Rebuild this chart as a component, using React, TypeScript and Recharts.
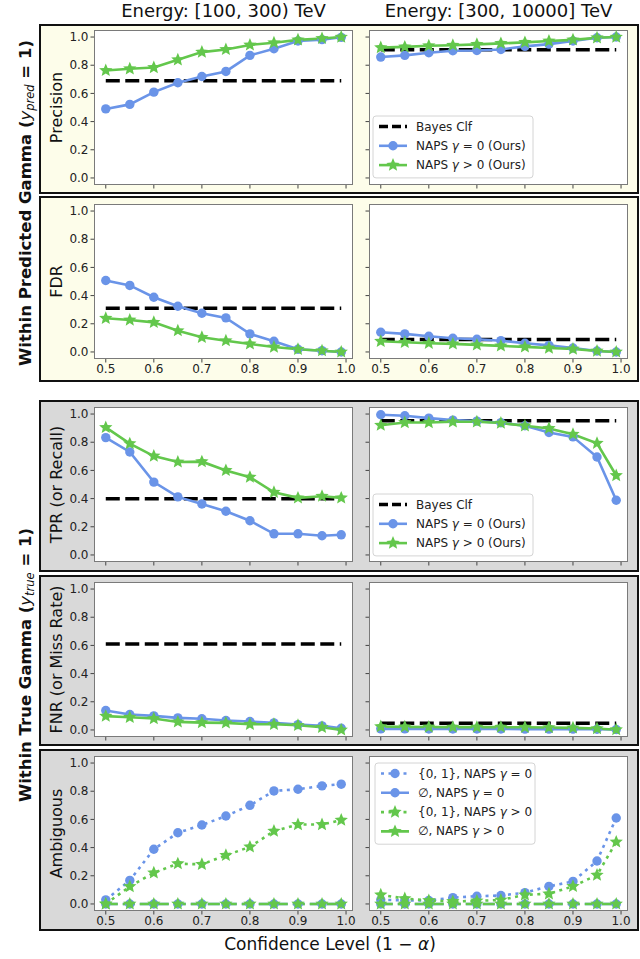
import React from 'react';
import { LineChart, Line, XAxis, YAxis } from 'recharts';

// confidence levels (x) shared by every panel
const confidence = [0.5, 0.55, 0.6, 0.65, 0.7, 0.75, 0.8, 0.85, 0.9, 0.95, 0.99];
const xTicks = [0.5, 0.6, 0.7, 0.8, 0.9, 1.0];
const yTicks = [0, 0.2, 0.4, 0.6, 0.8, 1.0];
const columnTitles = ['Energy: [100, 300) TeV', 'Energy: [300, 10000] TeV'];

// Precision
const precLowBayes = 0.69;
const precLowNaps0 = [0.49, 0.522, 0.609, 0.676, 0.72, 0.756, 0.87, 0.917, 0.972, 0.982, 0.998];
const precLowNapsG = [0.763, 0.775, 0.784, 0.839, 0.893, 0.912, 0.944, 0.96, 0.98, 0.99, 1.0];
const precHighBayes = 0.91;
const precHighNaps0 = [0.858, 0.87, 0.889, 0.903, 0.905, 0.912, 0.934, 0.95, 0.972, 0.995, 1.0];
const precHighNapsG = [0.925, 0.93, 0.938, 0.942, 0.948, 0.955, 0.962, 0.972, 0.98, 0.995, 1.0];

// FDR
const fdrLowBayes = 0.31;
const fdrLowNaps0 = [0.507, 0.472, 0.388, 0.324, 0.275, 0.242, 0.128, 0.076, 0.019, 0.009, 0.0];
const fdrLowNapsG = [0.239, 0.227, 0.21, 0.151, 0.104, 0.08, 0.057, 0.035, 0.019, 0.009, 0.0];
const fdrHighBayes = 0.088;
const fdrHighNaps0 = [0.14, 0.128, 0.111, 0.097, 0.09, 0.08, 0.062, 0.047, 0.028, 0.007, 0.0];
const fdrHighNapsG = [0.076, 0.069, 0.062, 0.057, 0.05, 0.043, 0.036, 0.028, 0.021, 0.007, 0.0];

// TPR
const tprLowBayes = 0.398;
const tprLowNaps0 = [0.833, 0.731, 0.517, 0.412, 0.362, 0.31, 0.243, 0.15, 0.15, 0.136, 0.143];
const tprLowNapsG = [0.905, 0.79, 0.702, 0.66, 0.662, 0.6, 0.552, 0.445, 0.405, 0.417, 0.405];
const tprHighBayes = 0.952;
const tprHighNaps0 = [0.995, 0.988, 0.971, 0.957, 0.95, 0.938, 0.917, 0.869, 0.838, 0.695, 0.388];
const tprHighNapsG = [0.921, 0.94, 0.94, 0.945, 0.945, 0.936, 0.917, 0.898, 0.857, 0.793, 0.564];

// FNR
const fnrLowBayes = 0.61;
const fnrLowNaps0 = [0.138, 0.11, 0.1, 0.086, 0.079, 0.067, 0.06, 0.05, 0.038, 0.029, 0.012];
const fnrLowNapsG = [0.098, 0.09, 0.081, 0.057, 0.052, 0.05, 0.04, 0.04, 0.033, 0.019, 0.0];
const fnrHighBayes = 0.048;
const fnrHighNaps0 = [0.008, 0.008, 0.007, 0.007, 0.007, 0.007, 0.006, 0.006, 0.006, 0.005, 0.003];
const fnrHighNapsG = [0.024, 0.022, 0.021, 0.02, 0.02, 0.02, 0.019, 0.017, 0.015, 0.01, 0.002];

// Ambiguous sets ({0,1}) and empty sets
const ambLowBoth0 = [0.029, 0.167, 0.388, 0.505, 0.56, 0.624, 0.7, 0.802, 0.814, 0.838, 0.85];
const ambLowEmpty0 = [0, 0, 0, 0, 0, 0, 0, 0, 0, 0, 0];
const ambLowBothG = [0.0, 0.124, 0.221, 0.286, 0.281, 0.345, 0.405, 0.517, 0.564, 0.564, 0.595];
const ambLowEmptyG = [0, 0, 0, 0, 0, 0, 0, 0, 0, 0, 0];
const ambHighBoth0 = [0.03, 0.025, 0.024, 0.045, 0.055, 0.06, 0.08, 0.125, 0.16, 0.305, 0.61];
const ambHighEmpty0 = [0, 0, 0, 0, 0, 0, 0, 0, 0, 0, 0];
const ambHighBothG = [0.065, 0.038, 0.025, 0.018, 0.022, 0.028, 0.065, 0.072, 0.125, 0.205, 0.44];
const ambHighEmptyG = [0, 0, 0, 0, 0, 0, 0, 0, 0, 0, 0];

const BLUE = '#6a94e8';
const GREEN = '#63c74c';
const YELLOW_BG = '#fdfdea';
const GREY_BG = '#d9d9d9';
const FONT = 'DejaVu Sans, sans-serif';

const PW = 259;
const PH = 155;
const PAD = 8;
const XH = 22;
const COL_X = [94, 369];
const ROW_Y = [30, 204, 407, 582, 756];
const DOTTED = '3 4.5';
const DASHED = '12 5';

function starPath(cx: number, cy: number, R: number) {
  const r = R * 0.45;
  let d = '';
  for (let i = 0; i < 10; i++) {
    const rad = i % 2 === 0 ? R : r;
    const a = -Math.PI / 2 + (i * Math.PI) / 5;
    d += (i === 0 ? 'M' : 'L') + (cx + rad * Math.cos(a)).toFixed(2) + ',' + (cy + rad * Math.sin(a)).toFixed(2);
  }
  return d + 'Z';
}

const Marker = ({ kind, cx, cy, color }: any) =>
  kind === 'star' ? <path d={starPath(cx, cy, 7)} fill={color} /> : <circle cx={cx} cy={cy} r={4.7} fill={color} />;

type Series = { values: number[]; color: string; marker: 'circle' | 'star'; dash?: string };

const naps = (blue: number[], green: number[]): Series[] => [
  { values: blue, color: BLUE, marker: 'circle' },
  { values: green, color: GREEN, marker: 'star' },
];

const panels = [
  { row: 0, col: 0, bayes: precLowBayes, series: naps(precLowNaps0, precLowNapsG) },
  { row: 0, col: 1, bayes: precHighBayes, series: naps(precHighNaps0, precHighNapsG) },
  { row: 1, col: 0, bayes: fdrLowBayes, series: naps(fdrLowNaps0, fdrLowNapsG) },
  { row: 1, col: 1, bayes: fdrHighBayes, series: naps(fdrHighNaps0, fdrHighNapsG) },
  { row: 2, col: 0, bayes: tprLowBayes, series: naps(tprLowNaps0, tprLowNapsG) },
  { row: 2, col: 1, bayes: tprHighBayes, series: naps(tprHighNaps0, tprHighNapsG) },
  { row: 3, col: 0, bayes: fnrLowBayes, series: naps(fnrLowNaps0, fnrLowNapsG) },
  { row: 3, col: 1, bayes: fnrHighBayes, series: naps(fnrHighNaps0, fnrHighNapsG) },
  {
    row: 4, col: 0, bayes: null,
    series: [
      { values: ambLowBoth0, color: BLUE, marker: 'circle', dash: DOTTED },
      { values: ambLowEmpty0, color: BLUE, marker: 'circle', dash: DASHED },
      { values: ambLowBothG, color: GREEN, marker: 'star', dash: DOTTED },
      { values: ambLowEmptyG, color: GREEN, marker: 'star', dash: DASHED },
    ] as Series[],
  },
  {
    row: 4, col: 1, bayes: null,
    series: [
      { values: ambHighBoth0, color: BLUE, marker: 'circle', dash: DOTTED },
      { values: ambHighEmpty0, color: BLUE, marker: 'circle', dash: DASHED },
      { values: ambHighBothG, color: GREEN, marker: 'star', dash: DOTTED },
      { values: ambHighEmptyG, color: GREEN, marker: 'star', dash: DASHED },
    ] as Series[],
  },
];

const yLabels = ['Precision', 'FDR', 'TPR (or Recall)', 'FNR (or Miss Rate)', 'Ambiguous'];
const labeledXRows = [1, 4];

const boxes = [
  { top: 24, h: 170, bg: YELLOW_BG },
  { top: 196, h: 186, bg: YELLOW_BG },
  { top: 400, h: 172, bg: GREY_BG },
  { top: 575, h: 171, bg: GREY_BG },
  { top: 749, h: 182, bg: GREY_BG },
];

const fmt = (v: number) => v.toFixed(1);
const blank = () => '';

function Panel({ row, col, bayes, series }: any) {
  const x = COL_X[col];
  const y = ROW_Y[row];
  const yw = col === 0 ? 44 : 10;
  const data = confidence.map((c, i) => {
    const d: any = { c };
    series.forEach((s: Series, k: number) => (d['s' + k] = s.values[i]));
    if (bayes != null) d.bayes = bayes;
    return d;
  });
  const tickStyle = { fontSize: 12, fill: '#222', fontFamily: FONT };
  return (
    <>
      <div
        style={{
          position: 'absolute', left: x, top: y, width: PW, height: PH,
          background: '#fff', border: '1px solid #7a7a7a', boxSizing: 'border-box',
        }}
      />
      <div style={{ position: 'absolute', left: x - yw, top: y - PAD }}>
        <LineChart width={yw + PW + PAD} height={PAD + PH + XH} data={data} margin={{ top: PAD, right: PAD, left: 0, bottom: 0 }}>
          <XAxis
            type="number" dataKey="c" domain={[0.4755, 1.0145]} ticks={xTicks} height={XH}
            tickFormatter={labeledXRows.includes(row) ? fmt : blank}
            tick={tickStyle} tickLine={{ stroke: '#444' }} tickSize={3.5} axisLine={false} allowDataOverflow
          />
          <YAxis
            type="number" domain={[-0.05, 1.05]} ticks={yTicks} width={yw}
            tickFormatter={col === 0 ? fmt : blank}
            tick={tickStyle} tickLine={{ stroke: '#444' }} tickSize={3.5} axisLine={false} allowDataOverflow
          />
          {bayes != null && (
            <Line dataKey="bayes" stroke="#000" strokeWidth={3.5} strokeDasharray="14 5.5" dot={false} activeDot={false} isAnimationActive={false} />
          )}
          {series.map((s: Series, k: number) => (
            <Line
              key={k}
              dataKey={'s' + k}
              stroke={s.color}
              strokeWidth={2.6}
              strokeDasharray={s.dash}
              activeDot={false}
              isAnimationActive={false}
              dot={(p: any) => <Marker key={`m${k}-${p.index}`} kind={s.marker} cx={p.cx} cy={p.cy} color={s.color} />}
            />
          ))}
        </LineChart>
      </div>
    </>
  );
}

const Gamma = () => <tspan fontStyle="italic">γ</tspan>;

const legendNaps = [
  { color: '#000', dash: '9 4', width: 3.5, marker: null, label: <>Bayes Clf</> },
  { color: BLUE, dash: undefined, width: 2.6, marker: 'circle', label: <>NAPS <Gamma /> = 0 (Ours)</> },
  { color: GREEN, dash: undefined, width: 2.6, marker: 'star', label: <>NAPS <Gamma /> &gt; 0 (Ours)</> },
];
const legendAmb = [
  { color: BLUE, dash: DOTTED, width: 2.6, marker: 'circle', label: <>{'{0, 1}'}, NAPS <Gamma /> = 0</> },
  { color: BLUE, dash: DASHED, width: 2.6, marker: 'circle', label: <>∅, NAPS <Gamma /> = 0</> },
  { color: GREEN, dash: DOTTED, width: 2.6, marker: 'star', label: <>{'{0, 1}'}, NAPS <Gamma /> &gt; 0</> },
  { color: GREEN, dash: DASHED, width: 2.6, marker: 'star', label: <>∅, NAPS <Gamma /> &gt; 0</> },
];

function LegendBox({ x, y, items }: any) {
  const rowH = 19.3;
  const h = items.length * rowH + 4;
  return (
    <g>
      <rect x={x} y={y} width={160} height={h} rx={3} fill="#fff" fillOpacity={0.9} stroke="#d4d4d4" />
      {items.map((it: any, i: number) => {
        const cy = y + 10.5 + i * rowH;
        return (
          <g key={i}>
            <line x1={x + 6} x2={x + 34} y1={cy} y2={cy} stroke={it.color} strokeWidth={it.width} strokeDasharray={it.dash} />
            {it.marker && <Marker kind={it.marker} cx={x + 20} cy={cy} color={it.color} />}
            <text x={x + 43} y={cy} dominantBaseline="central" fontSize={12} fill="#222">
              {it.label}
            </text>
          </g>
        );
      })}
    </g>
  );
}

export default function App() {
  return (
    <div style={{ position: 'absolute', left: 0, top: 0, width: 640, height: 959, background: '#fff', fontFamily: FONT }}>
      {boxes.map((b, i) => (
        <div
          key={i}
          style={{
            position: 'absolute', left: 39, top: b.top, width: 600, height: b.h,
            background: b.bg, border: '2px solid #111', boxSizing: 'border-box',
          }}
        />
      ))}
      {panels.map((p, i) => (
        <Panel key={i} {...p} />
      ))}
      <svg width={640} height={959} style={{ position: 'absolute', left: 0, top: 0, pointerEvents: 'none' }} fontFamily={FONT}>
        {columnTitles.map((t, i) => (
          <text key={t} x={COL_X[i] + PW / 2} y={17} textAnchor="middle" fontSize={18} fill="#111">
            {t}
          </text>
        ))}
        {yLabels.map((t, i) => (
          <text
            key={t}
            transform={`translate(62, ${ROW_Y[i] + PH / 2}) rotate(-90)`}
            textAnchor="middle" fontSize={16} fill="#111"
          >
            {t}
          </text>
        ))}
        <text transform="translate(31, 203) rotate(-90)" textAnchor="middle" fontSize={16.5} fontWeight="bold" fill="#111">
          Within Predicted Gamma (<tspan fontStyle="italic" fontWeight="normal">y</tspan>
          <tspan fontStyle="italic" fontWeight="normal" fontSize={11.5} dy={3}>pred</tspan>
          <tspan dy={-3}> = 1)</tspan>
        </text>
        <text transform="translate(31, 665) rotate(-90)" textAnchor="middle" fontSize={16.5} fontWeight="bold" fill="#111">
          Within True Gamma (<tspan fontStyle="italic" fontWeight="normal">y</tspan>
          <tspan fontStyle="italic" fontWeight="normal" fontSize={11.5} dy={3}>true</tspan>
          <tspan dy={-3}> = 1)</tspan>
        </text>
        <text x={330} y={950} textAnchor="middle" fontSize={17} fill="#111">
          Confidence Level (1 − <tspan fontStyle="italic">α</tspan>)
        </text>
        <LegendBox x={373} y={116} items={legendNaps} />
        <LegendBox x={373} y={494} items={legendNaps} />
        <LegendBox x={375} y={763} items={legendAmb} />
      </svg>
    </div>
  );
}
